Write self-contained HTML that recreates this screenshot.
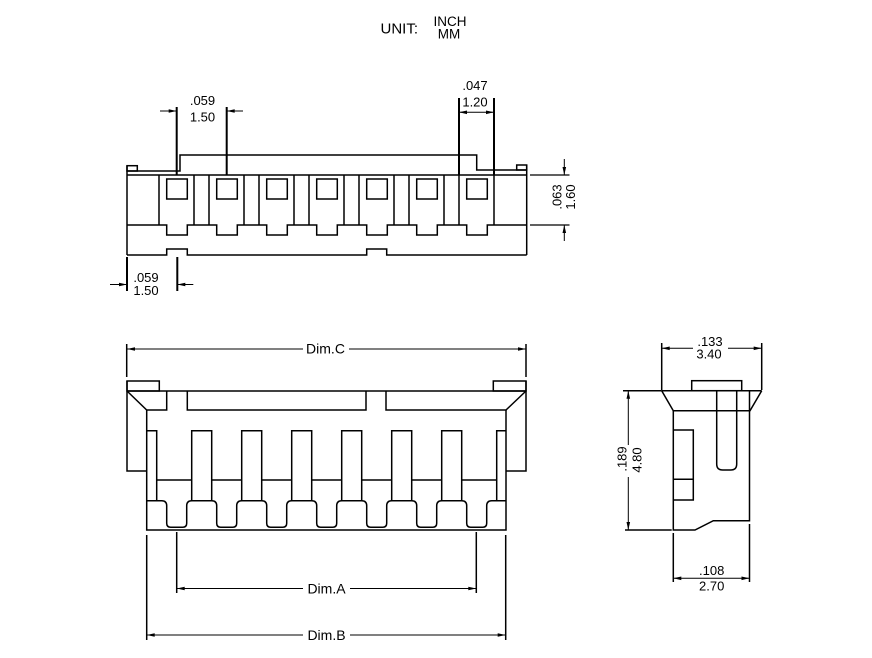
<!DOCTYPE html>
<html><head><meta charset="utf-8"><style>
html,body{margin:0;padding:0;background:#fff;}
svg{display:block;}
text{font-family:"Liberation Sans",Arial,sans-serif;fill:#000;}
</style></head><body>
<svg width="872" height="658" viewBox="0 0 872 658" xmlns="http://www.w3.org/2000/svg">
<rect width="872" height="658" fill="#fff"/>

<!-- Title -->
<text x="380.5" y="33.5" font-size="15">UNIT:</text>
<text x="450" y="26" font-size="13.5" text-anchor="middle">INCH</text>
<text x="449" y="38.5" font-size="13.5" text-anchor="middle">MM</text>

<g fill="none" stroke="#000" stroke-width="1.5" stroke-linejoin="miter">
<!-- ============ TOP VIEW ============ -->
<rect x="127" y="165.7" width="10.3" height="5.3"/>
<rect x="516.7" y="165" width="10" height="5"/>
<path d="M127,171 H180 V155 H476.7 V170 H526.7"/>
<path d="M127,165.7 V255 M526.7,165 V255"/>
<path d="M127,175 H526.7"/>
<path d="M127,225 H166.7 V235 H187.3 V225 H216.7 V235 H237.3 V225 H266.7 V235 H287.3 V225 H316.7 V235 H337.3 V225 H366.7 V235 H387.3 V225 H416.7 V235 H437.3 V225 H466.7 V235 H487.3 V225 H526.7"/>
<path d="M127,255 H166.7 V249 H187.3 V255 H366.7 V249 H386.7 V255 H526.7"/>
<path d="M159,175 V225 M194,175 V225 M209,175 V225 M244,175 V225 M259,175 V225 M294,175 V225 M309,175 V225 M344,175 V225 M359,175 V225 M394,175 V225 M409,175 V225 M444,175 V225 M459,175 V225 M494,175 V225"/>
<rect x="166.7" y="179" width="20.6" height="20"/>
<rect x="216.7" y="179" width="20.6" height="20"/>
<rect x="266.7" y="179" width="20.6" height="20"/>
<rect x="316.7" y="179" width="20.6" height="20"/>
<rect x="366.7" y="179" width="20.6" height="20"/>
<rect x="416.7" y="179" width="20.6" height="20"/>
<rect x="466.7" y="179" width="20.6" height="20"/>
</g>

<!-- top view dimension extension lines -->
<g fill="none" stroke="#000" stroke-width="2">
<path d="M176.7,107 V175 M226.7,107 V175"/>
<path d="M459,98 V175 M494,98 V175"/>
<path d="M127,257 V291 M177.3,257 V291"/>
</g>
<g fill="none" stroke="#000" stroke-width="1.2">
<path d="M530,175 H569.5 M530,225 H569.5"/>
</g>
<g fill="none" stroke="#000" stroke-width="1">
<path d="M160,111 H176.7 M243,111 H226.7"/>
<path d="M459,112.3 H494"/>
<path d="M110,284.5 H127 M193.3,284.5 H177.3"/>
<path d="M564.3,159 V175 M564.3,241 V225"/>
</g>
<g fill="#000" stroke="none">
<polygon points="176.7,111 168.7,109.2 168.7,112.8"/>
<polygon points="226.7,111 234.7,109.2 234.7,112.8"/>
<polygon points="459,112.3 467,110.5 467,114.1"/>
<polygon points="494,112.3 486,110.5 486,114.1"/>
<polygon points="127,284.5 119,282.7 119,286.3"/>
<polygon points="177.3,284.5 185.3,282.7 185.3,286.3"/>
<polygon points="564.3,175 562.5,167 566.1,167"/>
<polygon points="564.3,225 562.5,233 566.1,233"/>
</g>
<text x="202.5" y="105" font-size="13" text-anchor="middle">.059</text>
<text x="202.5" y="121.5" font-size="13" text-anchor="middle">1.50</text>
<text x="475" y="90" font-size="13" text-anchor="middle">.047</text>
<text x="475" y="106.5" font-size="13" text-anchor="middle">1.20</text>
<text x="146" y="282" font-size="13" text-anchor="middle">.059</text>
<text x="146" y="295" font-size="13" text-anchor="middle">1.50</text>
<text transform="translate(561.5,197) rotate(-90)" font-size="13" text-anchor="middle">.063</text>
<text transform="translate(575,197) rotate(-90)" font-size="13" text-anchor="middle">1.60</text>

<!-- ============ FRONT VIEW ============ -->
<g fill="none" stroke="#000" stroke-width="1.5" stroke-linejoin="miter">
<rect x="127" y="381" width="32.3" height="10"/>
<rect x="493.3" y="381" width="32.7" height="10"/>
<path d="M127,391 H526"/>
<path d="M127,381 V471 H146.7"/>
<path d="M526,381 V471 H506"/>
<path d="M127,391 L146.7,410 H166.7 V391 M187.3,391 V410 H366 V391 M386,391 V410 H506 L526,391"/>
<path d="M146.7,410 V530 H506 V410"/>
<path d="M146.7,430.7 H156.7 V500.7 M506,430.7 H496.7 V500.7"/>
<path d="M191.7,500.7 V430.7 H211.7 V500.7 M241.7,500.7 V430.7 H261.7 V500.7 M291.7,500.7 V430.7 H311.7 V500.7 M341.7,500.7 V430.7 H361.7 V500.7 M391.7,500.7 V430.7 H411.7 V500.7 M441.7,500.7 V430.7 H461.7 V500.7"/>
<path d="M156.7,480 H191.7 M211.7,480 H241.7 M261.7,480 H291.7 M311.7,480 H341.7 M361.7,480 H391.7 M411.7,480 H441.7 M461.7,480 H496.7"/>
<path d="M146.7,500.7
L161.7,500.7 Q166.7,500.7 166.7,505.7 L166.7,523.3 Q166.7,527.3 170.7,527.3 L182.7,527.3 Q186.7,527.3 186.7,523.3 L186.7,505.7 Q186.7,500.7 191.7,500.7
L211.7,500.7 Q216.7,500.7 216.7,505.7 L216.7,523.3 Q216.7,527.3 220.7,527.3 L232.7,527.3 Q236.7,527.3 236.7,523.3 L236.7,505.7 Q236.7,500.7 241.7,500.7
L261.7,500.7 Q266.7,500.7 266.7,505.7 L266.7,523.3 Q266.7,527.3 270.7,527.3 L282.7,527.3 Q286.7,527.3 286.7,523.3 L286.7,505.7 Q286.7,500.7 291.7,500.7
L311.7,500.7 Q316.7,500.7 316.7,505.7 L316.7,523.3 Q316.7,527.3 320.7,527.3 L332.7,527.3 Q336.7,527.3 336.7,523.3 L336.7,505.7 Q336.7,500.7 341.7,500.7
L361.7,500.7 Q366.7,500.7 366.7,505.7 L366.7,523.3 Q366.7,527.3 370.7,527.3 L382.7,527.3 Q386.7,527.3 386.7,523.3 L386.7,505.7 Q386.7,500.7 391.7,500.7
L411.7,500.7 Q416.7,500.7 416.7,505.7 L416.7,523.3 Q416.7,527.3 420.7,527.3 L432.7,527.3 Q436.7,527.3 436.7,523.3 L436.7,505.7 Q436.7,500.7 441.7,500.7
L461.7,500.7 Q466.7,500.7 466.7,505.7 L466.7,523.3 Q466.7,527.3 470.7,527.3 L482.7,527.3 Q486.7,527.3 486.7,523.3 L486.7,505.7 Q486.7,500.7 491.7,500.7
L506,500.7"/>
</g>
<!-- front view dims -->
<g fill="none" stroke="#000" stroke-width="1.5">
<path d="M126.7,344 V377 M526,344 V377"/>
<path d="M176.7,532 V593 M476.3,532 V593"/>
<path d="M146.7,535 V640 M505.7,535 V640"/>
</g>
<g fill="none" stroke="#000" stroke-width="1">
<path d="M127,349 H303 M349,349 H526"/>
<path d="M176.7,588.5 H303 M350,588.5 H476.3"/>
<path d="M146.7,635 H303 M350,635 H505.7"/>
</g>
<g fill="#000" stroke="none">
<polygon points="127,349 135,347.2 135,350.8"/>
<polygon points="526,349 518,347.2 518,350.8"/>
<polygon points="176.7,588.5 184.7,586.7 184.7,590.3"/>
<polygon points="476.3,588.5 468.3,586.7 468.3,590.3"/>
<polygon points="146.7,635 154.7,633.2 154.7,636.8"/>
<polygon points="505.7,635 497.7,633.2 497.7,636.8"/>
</g>
<text x="325.5" y="353.5" font-size="14" text-anchor="middle">Dim.C</text>
<text x="326.5" y="593.5" font-size="14" text-anchor="middle">Dim.A</text>
<text x="326.5" y="640" font-size="14" text-anchor="middle">Dim.B</text>

<!-- ============ SIDE VIEW ============ -->
<g fill="none" stroke="#000" stroke-width="1.5" stroke-linejoin="miter">
<rect x="691.7" y="380.7" width="50" height="10"/>
<path d="M661.7,390.7 H761.7"/>
<path d="M661.7,390.7 L673.3,410.7 H750 L761.7,390.7"/>
<path d="M673.3,410.7 V530 H695 L713.3,520.7 H749.5 V390.7"/>
<path d="M673.3,430 H693.3 V500 H673.3 M673.3,479.3 H693.3"/>
<path d="M716.7,390.7 V464 Q716.7,470 722.7,470 H730.7 Q736.7,470 736.7,464 V390.7"/>
</g>
<g fill="none" stroke="#000" stroke-width="1.5">
<path d="M661.7,343 V390 M761.7,343 V390"/>
<path d="M623,390.7 H661.7 M625,530 H671.7"/>
<path d="M673.3,533 V582 M749.5,524 V582"/>
</g>
<g fill="none" stroke="#000" stroke-width="1">
<path d="M661.7,348.3 H693 M728,348.3 H761.7"/>
<path d="M628.3,390.7 V445 M628.3,477 V530"/>
<path d="M673.3,578.3 H749.5"/>
</g>
<g fill="#000" stroke="none">
<polygon points="661.7,348.3 669.7,346.5 669.7,350.1"/>
<polygon points="761.7,348.3 753.7,346.5 753.7,350.1"/>
<polygon points="628.3,390.7 626.5,398.7 630.1,398.7"/>
<polygon points="628.3,530 626.5,522 630.1,522"/>
<polygon points="673.3,578.3 681.3,576.5 681.3,580.1"/>
<polygon points="749.5,578.3 741.5,576.5 741.5,580.1"/>
</g>
<text x="710" y="346" font-size="13" text-anchor="middle">.133</text>
<text x="709" y="358.5" font-size="13" text-anchor="middle">3.40</text>
<text transform="translate(626.7,459) rotate(-90)" font-size="13" text-anchor="middle">.189</text>
<text transform="translate(641.5,460) rotate(-90)" font-size="13" text-anchor="middle">4.80</text>
<text x="711.7" y="575" font-size="13" text-anchor="middle">.108</text>
<text x="711.7" y="590.5" font-size="13" text-anchor="middle">2.70</text>
</svg>
</body></html>
